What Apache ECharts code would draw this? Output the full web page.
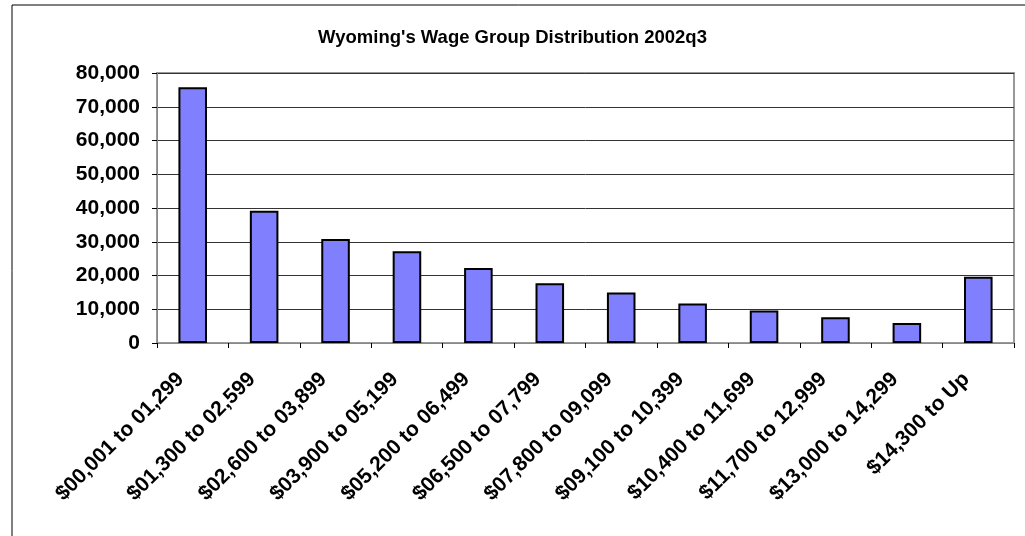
<!DOCTYPE html>
<html>
<head>
<meta charset="utf-8">
<script src="https://cdn.jsdelivr.net/npm/echarts@6/dist/echarts.min.js"></script>
<style>
  html, body { margin: 0; padding: 0; background: #fff; }
  #chart { width: 1025px; height: 536px; }
</style>
</head>
<body>
<div id="chart"></div>
<script>
const categories = [
  "$00,001 to 01,299", "$01,300 to 02,599", "$02,600 to 03,899", "$03,900 to 05,199",
  "$05,200 to 06,499", "$06,500 to 07,799", "$07,800 to 09,099", "$09,100 to 10,399",
  "$10,400 to 11,699", "$11,700 to 12,999", "$13,000 to 14,299", "$14,300 to Up"
];
const workers = [75800, 39200, 30800, 27200, 22200, 17700, 15000, 11700, 9600, 7600, 5900, 19600];
const yMax = 80000;
const yStep = 10000;

const chart = echarts.init(document.getElementById("chart"));
chart.setOption({
  animation: false,
  textStyle: { fontFamily: "Liberation Sans, Arial, sans-serif" },
  title: {
    text: "Wyoming's Wage Group Distribution 2002q3",
    left: "center",
    top: 23,
    textStyle: { fontSize: 18.5, fontWeight: "bold", color: "#000" }
  },
  graphic: [
    { type: "line", shape: { x1: 12, y1: 5, x2: 1025, y2: 5 }, style: { stroke: "#000", lineWidth: 1 } },
    { type: "line", shape: { x1: 12, y1: 5, x2: 12, y2: 536 }, style: { stroke: "#000", lineWidth: 1 } }
  ],
  grid: {
    left: 157, right: 11, top: 73, bottom: 193,
    show: true, borderColor: "#999", borderWidth: 2
  },
  xAxis: {
    type: "category",
    data: categories,
    axisLine: { lineStyle: { color: "#888", width: 1 } },
    axisTick: { show: true, length: 5, alignWithLabel: false, lineStyle: { color: "#000" } },
    axisLabel: {
      rotate: 45, interval: 0, margin: 21, padding: [0, 17, 0, 0],
      color: "#000", fontSize: 21, fontWeight: "bold"
    }
  },
  yAxis: {
    type: "value",
    min: 0, max: yMax, interval: yStep,
    axisLine: { show: true, lineStyle: { color: "#888" } },
    axisTick: { show: true, length: 5, lineStyle: { color: "#000" } },
    splitLine: { lineStyle: { color: "#333", width: 1 } },
    axisLabel: {
      color: "#000", fontSize: 21, fontWeight: "bold", margin: 17,
      formatter: v => v.toLocaleString("en-US")
    }
  },
  series: [{
    type: "bar",
    data: workers,
    barWidth: "40%",
    itemStyle: { color: "#8080FF", borderColor: "#000", borderWidth: 2 }
  }]
});
</script>
</body>
</html>
